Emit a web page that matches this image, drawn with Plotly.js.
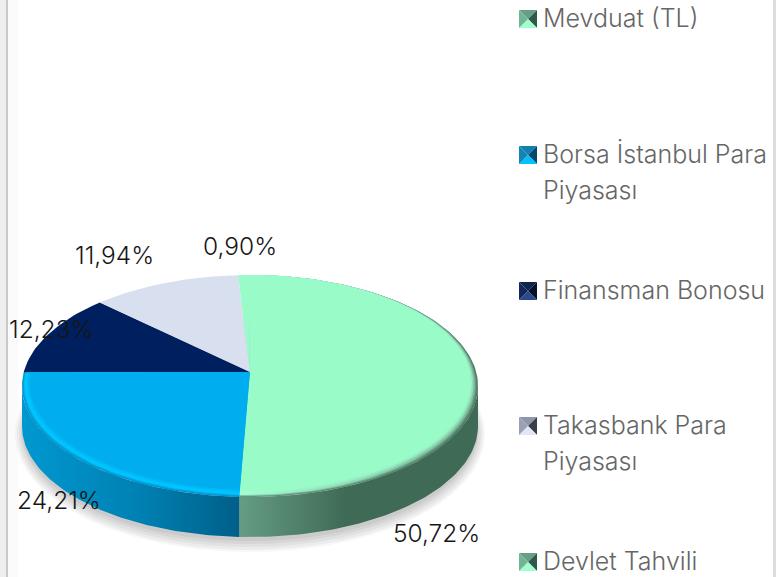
<!DOCTYPE html>
<html>
<head>
<meta charset="utf-8">
<script src="https://cdn.plot.ly/plotly-3.0.1.min.js"></script>
<style>html,body{margin:0;padding:0;background:#fff;overflow:hidden}#chart{width:776px;height:577px}</style>
</head>
<body>
<div id="chart"></div>
<script>
// ---- data ----
const categories = ["Mevduat (TL)", "Borsa İstanbul Para<br>Piyasası", "Finansman Bonosu", "Takasbank Para<br>Piyasası", "Devlet Tahvili"];
const values = [50.72, 24.21, 12.23, 11.94, 0.90];
const valueLabels = ["50,72%", "24,21%", "12,23%", "11,94%", "0,90%"];
const sliceColors = ["#98fbc8", "#00aeef", "#001f5f", "#d8dfee", "#98fbc8"];

// ---- drawing styles and geometry ----
const FONT = "Inter, 'Open Sans', sans-serif";
const CX = 250, CY = 386, RX = 228, RY = 111, DEPTH = 40, VX = 250, VY = 372, START = -0.2;
const labelPos = [[436, 533], [59, 500], [51, 329], [114, 255], [240, 246]];
const legendY = [18, 154, 290, 425, 561];
const swatch = [
  ["#669f85", "#2f5a48", "#a0ffd0", "#72b595"],
  ["#1080b0", "#004a70", "#00c0ff", "#1484b4"],
  ["#0f2550", "#05102a", "#2a4a8a", "#11295a"],
  ["#9097aa", "#3a3e4a", "#e0e6f2", "#9aa1b5"],
  ["#669f85", "#2f5a48", "#a0ffd0", "#72b595"]
];
const rad = d => d * Math.PI / 180;

// ray from the (off-centre) apex to the rim of an ellipse
function rim(phi, rx = RX, ry = RY, cy = CY) {
  const dx = Math.sin(rad(phi)) * RX, dy = -Math.cos(rad(phi)) * RY;
  const ox = VX - CX, oy = VY - cy;
  const a = dx * dx / (rx * rx) + dy * dy / (ry * ry);
  const b = 2 * (ox * dx / (rx * rx) + oy * dy / (ry * ry));
  const c = ox * ox / (rx * rx) + oy * oy / (ry * ry) - 1;
  const t = (-b + Math.sqrt(b * b - 4 * a * c)) / (2 * a);
  return [VX + t * dx, VY + t * dy];
}
function ellipseAngle(p) { // degrees clockwise from top
  let a = Math.atan2((p[0] - CX) / RX, (CY - p[1]) / RY) * 180 / Math.PI;
  return a < 0 ? a + 360 : a;
}
// slice boundaries, clockwise, from the values
const edges = [START];
values.forEach(v => edges.push(edges[edges.length - 1] + v * 3.6));

function sectorTrace(i, rx, ry, cy, fillSpec) {
  const xs = [VX], ys = [VY], a0 = edges[i], a1 = edges[i + 1], n = Math.max(4, Math.ceil((a1 - a0) / 1.5));
  for (let k = 0; k <= n; k++) {
    const p = rim(a0 + (a1 - a0) * k / n, rx, ry, cy);
    xs.push(p[0]); ys.push(p[1]);
  }
  xs.push(VX); ys.push(VY);
  return Object.assign({type: "scatter", mode: "lines", x: xs, y: ys, fill: "toself", line: {width: 0}, hoverinfo: "skip", showlegend: false}, fillSpec);
}
function wallTrace(a0, a1, gradient) {
  const top = [], n = 80;
  for (let k = 0; k <= n; k++) {
    const a = rad(a0 + (a1 - a0) * k / n);
    top.push([CX + RX * Math.sin(a), CY - RY * Math.cos(a)]);
  }
  const xs = top.map(p => p[0]).concat(top.slice().reverse().map(p => p[0]));
  const ys = top.map(p => p[1]).concat(top.slice().reverse().map(p => p[1] + DEPTH));
  xs.push(xs[0]); ys.push(ys[0]);
  return {type: "scatter", mode: "lines", x: xs, y: ys, fill: "toself", line: {width: 0}, hoverinfo: "skip", showlegend: false,
    fillgradient: {type: "horizontal", colorscale: gradient}};
}
function shadowTrace(grow, dy, alpha) {
  const xs = [], ys = [];
  for (let k = 0; k <= 180; k++) {
    const a = rad(k * 2);
    xs.push(CX + (RX + grow) * Math.sin(a)); ys.push(CY + DEPTH + dy - (RY + grow) * Math.cos(a));
  }
  return {type: "scatter", mode: "lines", x: xs, y: ys, fill: "toself", fillcolor: `rgba(120,120,120,${alpha})`, line: {width: 0}, hoverinfo: "skip", showlegend: false};
}
const grad = (c0, c1) => ({fillgradient: {type: "horizontal", colorscale: [[0, c0], [1, c1]]}});
const flat = c => ({fillcolor: c});

const seam = ellipseAngle(rim(edges[1]));
const traces = [];
[[7, 8, .06], [5, 8, .08], [3, 7, .09], [1, 6, .1], [0, 4, .12]].forEach(s => traces.push(shadowTrace(s[0], s[1], s[2])));
traces.push(wallTrace(90, seam, [[0, "#659c84"], [.45, "#3f6a55"], [1, "#3f6a55"]]));
traces.push(wallTrace(seam, 270, [[0, "#0098d0"], [.55, "#0080b2"], [1, "#005f88"]]));

// flat back slices
[2, 3, 4].forEach(i => traces.push(sectorTrace(i, RX, RY, CY, flat(sliceColors[i]))));
// bevelled front slices: outer layers first, flat colour last
const bevelLayers = [
  [0, [ "#5d9a80", "#48785f"], ["#0092cc", "#0092cc"]],
  [1, ["#86c4a8", "#55896f"], ["#00a6e2", "#00a6e2"]],
  [2, ["#a2ffd2", "#6a9f86"], ["#00bdf8", "#00bdf8"]],
  [3, ["#a2ffd2", "#7fbb9e"], ["#00c6ff", "#00c6ff"]],
  [4.5, ["#a0fdce", "#90dcb6"], ["#00c0fa", "#00c0fa"]],
  [6, ["#9cfccb", "#98f4c4"], ["#00b6f4", "#00b6f4"]]
];
bevelLayers.forEach(L => {
  const inset = L[0], rx = RX - inset, ry = RY - inset / 2, cy = CY - inset / 2;
  traces.push(sectorTrace(0, rx, ry, cy, grad(L[1][0], L[1][1])));
  traces.push(sectorTrace(1, rx, ry, cy, flat(L[2][0])));
});
traces.push(sectorTrace(0, RX - 7.5, RY - 3.75, CY - 3.75, flat(sliceColors[0])));
traces.push(sectorTrace(1, RX - 7.5, RY - 3.75, CY - 3.75, flat(sliceColors[1])));

// value labels
const annotations = valueLabels.map((t, i) => ({
  x: labelPos[i][0], y: labelPos[i][1], xref: "x", yref: "y", text: t, showarrow: false,
  xanchor: "center", yanchor: "middle", font: {family: FONT, size: 24.5, color: "#161616", weight: 300}
}));
// legend
const shapes = [];
categories.forEach((name, i) => {
  const y = legendY[i];
  name.split("<br>").forEach((line, j) => annotations.push({
    x: 540.5, y: y + j * 36, xref: "x", yref: "y", text: line, showarrow: false,
    xanchor: "left", yanchor: "middle", font: {family: FONT, size: 25, color: "#666666", weight: 300}
  }));
  const x0 = 519, x1 = 537, y0 = y - 8, y1 = y + 10, mx = 528, my = y + 1;
  const tri = [[[x0, y0], [x1, y0]], [[x1, y0], [x1, y1]], [[x1, y1], [x0, y1]], [[x0, y1], [x0, y0]]];
  tri.forEach((e, k) => shapes.push({type: "path", xref: "x", yref: "y", layer: "above",
    path: `M${e[0][0]} ${e[0][1]} L${e[1][0]} ${e[1][1]} L${mx} ${my} Z`, fillcolor: swatch[i][k], line: {width: 0}}));
});
// page frame
[[0, 6, "#eeeeee"], [6, 8, "#c8c8c8"], [8, 18, "#fbfbfb"], [773, 776, "#dddddd"]].forEach(b =>
  shapes.push({type: "rect", xref: "x", yref: "y", layer: "below", x0: b[0], x1: b[1], y0: 0, y1: 577, fillcolor: b[2], line: {width: 0}}));

Plotly.newPlot("chart", traces, {
  width: 776, height: 577, margin: {l: 0, r: 0, t: 0, b: 0, pad: 0},
  paper_bgcolor: "#ffffff", plot_bgcolor: "#ffffff", showlegend: false,
  xaxis: {range: [0, 776], visible: false, fixedrange: true},
  yaxis: {range: [577, 0], visible: false, fixedrange: true},
  annotations, shapes
}, {displayModeBar: false, staticPlot: true});
</script>
</body>
</html>
